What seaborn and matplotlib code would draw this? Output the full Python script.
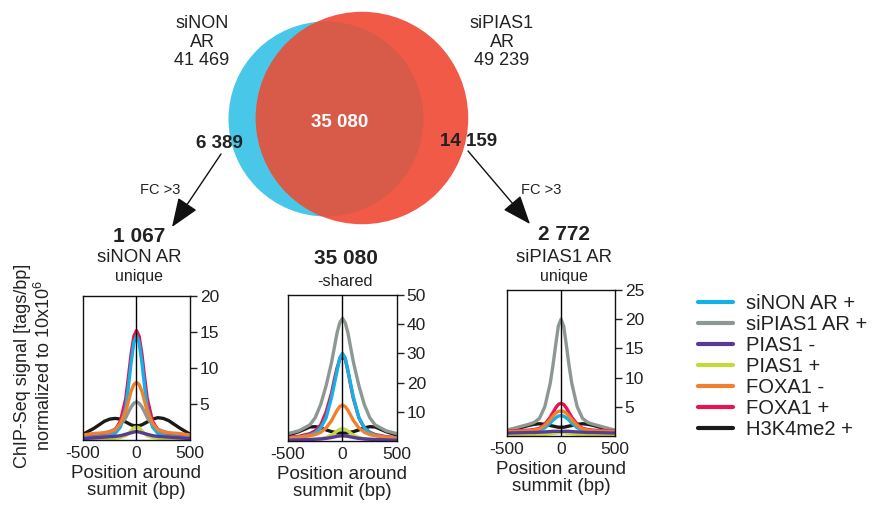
import numpy as np
import pandas as pd
import matplotlib
matplotlib.use('Agg')
import matplotlib.pyplot as plt
from matplotlib.patches import Circle
import seaborn as sns

sns.set_style('ticks')
plt.rcParams['font.family'] = ['Liberation Sans', 'DejaVu Sans']
plt.rcParams['mathtext.fontset'] = 'custom'
plt.rcParams['mathtext.rm'] = 'Liberation Sans'
plt.rcParams['axes.unicode_minus'] = False

# ---- Venn counts ----
venn_names = ['siNON\nAR', 'siPIAS1\nAR']
venn_totals = [41469, 49239]
venn_shared = 35080
venn_unique = [6389, 14159]

# ---- profile panels ----
panel_counts = [1067, 35080, 2772]
panel_names = ['siNON AR', '-shared', 'siPIAS1 AR']
panel_sub = ['unique', '', 'unique']
panel_ymax = [20, 50, 25]
panel_yticks = [[5, 10, 15, 20], [10, 20, 30, 40, 50], [5, 10, 15, 20, 25]]

positions = [-500, -400, -300, -250, -200, -150, -100, -75, -50, -25, 0,
             25, 50, 75, 100, 150, 200, 250, 300, 400, 500]

tracks = ['siNON AR +', 'siPIAS1 AR +', 'PIAS1 -', 'PIAS1 +', 'FOXA1 -', 'FOXA1 +', 'H3K4me2 +']
track_colors = ['#12B2E8', '#8E9892', '#5A3A98', '#C3DA3A', '#F0802E', '#E8134F', '#1A1A1A']
draw_order = ['H3K4me2 +', 'siPIAS1 AR +', 'FOXA1 +', 'siNON AR +', 'FOXA1 -', 'PIAS1 +', 'PIAS1 -']

signal_nonunique = {
    'siNON AR +':   [0.3, 0.4, 0.5, 0.6, 0.9, 1.8, 4.5, 7.5, 10.8, 13.5, 14.5, 13.5, 10.8, 7.5, 4.5, 1.8, 0.9, 0.6, 0.5, 0.4, 0.3],
    'siPIAS1 AR +': [0.5, 0.7, 1.0, 1.2, 1.5, 2.1, 3.1, 3.9, 4.6, 5.1, 5.3, 5.1, 4.6, 3.9, 3.1, 2.1, 1.5, 1.2, 1.0, 0.7, 0.5],
    'PIAS1 -':      [0.2, 0.3, 0.4, 0.45, 0.5, 0.6, 0.8, 0.9, 1.0, 1.1, 1.2, 1.1, 1.0, 0.9, 0.8, 0.6, 0.5, 0.45, 0.4, 0.3, 0.2],
    'PIAS1 +':      [0.1, 0.1, 0.15, 0.2, 0.25, 0.35, 0.6, 0.9, 1.3, 1.7, 1.8, 1.7, 1.3, 0.9, 0.6, 0.35, 0.25, 0.2, 0.15, 0.1, 0.1],
    'FOXA1 -':      [0.7, 0.9, 1.0, 1.1, 1.4, 2.3, 4.0, 5.4, 6.8, 7.7, 8.0, 7.7, 6.8, 5.4, 4.0, 2.3, 1.4, 1.1, 1.0, 0.9, 0.7],
    'FOXA1 +':      [0.5, 0.7, 0.9, 1.0, 1.4, 2.6, 5.8, 8.8, 12.0, 14.4, 15.2, 14.4, 12.0, 8.8, 5.8, 2.6, 1.4, 1.0, 0.9, 0.7, 0.5],
    'H3K4me2 +':    [0.8, 1.6, 2.6, 2.9, 3.0, 2.9, 2.5, 2.3, 2.1, 2.0, 2.0, 2.0, 2.1, 2.3, 2.5, 2.9, 3.1, 3.0, 2.7, 1.7, 0.8],
}
signal_shared = {
    'siNON AR +':   [1.0, 1.3, 2.0, 2.8, 4.5, 8.0, 15.0, 19.5, 24.0, 28.5, 30.0, 28.5, 24.0, 19.5, 15.0, 8.0, 4.5, 2.8, 2.0, 1.3, 1.0],
    'siPIAS1 AR +': [2.5, 3.5, 5.5, 8.0, 12.5, 19.0, 27.0, 32.0, 37.0, 40.5, 42.0, 40.5, 37.0, 32.0, 27.0, 19.0, 12.5, 8.0, 5.5, 3.5, 2.5],
    'PIAS1 -':      [0.3, 0.4, 0.5, 0.6, 0.7, 0.9, 1.2, 1.4, 1.6, 1.7, 1.8, 1.7, 1.6, 1.4, 1.2, 0.9, 0.7, 0.6, 0.5, 0.4, 0.3],
    'PIAS1 +':      [0.3, 0.4, 0.5, 0.6, 0.8, 1.2, 2.0, 2.7, 3.4, 4.0, 4.2, 4.0, 3.4, 2.7, 2.0, 1.2, 0.8, 0.6, 0.5, 0.4, 0.3],
    'FOXA1 -':      [1.0, 1.3, 1.8, 2.2, 3.0, 4.5, 7.0, 8.8, 10.5, 11.8, 12.3, 11.8, 10.5, 8.8, 7.0, 4.5, 3.0, 2.2, 1.8, 1.3, 1.0],
    'FOXA1 +':      [1.2, 1.6, 2.5, 3.5, 5.5, 10.0, 16.5, 21.0, 25.0, 28.0, 29.0, 28.0, 24.0, 19.0, 14.5, 8.0, 4.5, 3.0, 2.2, 1.5, 1.1],
    'H3K4me2 +':    [2.0, 3.2, 4.8, 4.9, 4.5, 3.8, 3.2, 3.0, 2.8, 2.7, 2.7, 2.7, 2.8, 3.0, 3.2, 3.8, 4.5, 4.9, 4.8, 3.2, 2.0],
}
signal_piasunique = {
    'siNON AR +':   [0.5, 0.6, 0.7, 0.8, 1.0, 1.4, 2.2, 2.7, 3.1, 3.4, 3.5, 3.4, 3.1, 2.7, 2.2, 1.4, 1.0, 0.8, 0.7, 0.6, 0.5],
    'siPIAS1 AR +': [1.0, 1.5, 2.0, 2.3, 3.0, 5.0, 9.0, 12.0, 15.5, 18.8, 20.0, 18.8, 15.5, 12.0, 9.0, 5.0, 3.0, 2.3, 2.0, 1.5, 1.0],
    'PIAS1 -':      [0.5, 0.55, 0.6, 0.6, 0.65, 0.7, 0.75, 0.8, 0.8, 0.8, 0.8, 0.8, 0.8, 0.8, 0.75, 0.7, 0.65, 0.6, 0.6, 0.55, 0.5],
    'PIAS1 +':      [0.2, 0.2, 0.25, 0.25, 0.3, 0.3, 0.4, 0.45, 0.5, 0.55, 0.6, 0.55, 0.5, 0.45, 0.4, 0.3, 0.3, 0.25, 0.25, 0.2, 0.2],
    'FOXA1 -':      [0.7, 0.8, 0.9, 1.0, 1.2, 1.8, 2.8, 3.4, 3.9, 4.2, 4.3, 4.2, 3.9, 3.4, 2.8, 1.8, 1.2, 1.0, 0.9, 0.8, 0.7],
    'FOXA1 +':      [0.8, 0.9, 1.0, 1.1, 1.3, 2.0, 3.2, 4.0, 4.8, 5.4, 5.6, 5.4, 4.8, 4.0, 3.2, 2.0, 1.3, 1.1, 1.0, 0.9, 0.8],
    'H3K4me2 +':    [0.8, 1.3, 1.8, 2.0, 2.1, 2.0, 1.8, 1.7, 1.6, 1.5, 1.5, 1.5, 1.6, 1.7, 1.8, 2.0, 2.1, 2.0, 1.8, 1.3, 0.8],
}
panel_signals = [signal_nonunique, signal_shared, signal_piasunique]


def fmt(n):
    return f'{n:,}'.replace(',', ' ')


W, H = 878, 509
fig = plt.figure(figsize=(W / 100, H / 100), dpi=100)

# overlay in pixel coordinates for the Venn part and annotations
ov = fig.add_axes([0, 0, 1, 1])
ov.set_xlim(0, W)
ov.set_ylim(H, 0)
ov.axis('off')

k = 97.5 / np.sqrt(venn_totals[0])
r_blue, r_red = k * np.sqrt(venn_totals[0]), k * np.sqrt(venn_totals[1])
blue = Circle((326, 119), r_blue, color='#48C7E9', lw=0)
red = Circle((362, 118), r_red, color='#F05A46', lw=0)
both = Circle((362, 118), r_red, color='#D85B4A', lw=0)
ov.add_patch(blue)
ov.add_patch(red)
ov.add_patch(both)
both.set_clip_path(blue)

ov.text(202, 42, f'{venn_names[0]}\n{fmt(venn_totals[0])}', ha='center', va='center',
        fontsize=13, color='#222222', linespacing=1.1)
ov.text(502, 42, f'{venn_names[1]}\n{fmt(venn_totals[1])}', ha='center', va='center',
        fontsize=13, color='#222222', linespacing=1.1)
ov.text(340, 122, fmt(venn_shared), ha='center', va='center', fontsize=13.5,
        fontweight='bold', color='white')
ov.text(219, 144, fmt(venn_unique[0]), ha='center', va='center', fontsize=13.5,
        fontweight='bold', color='#222222')
ov.text(469, 142, fmt(venn_unique[1]), ha='center', va='center', fontsize=13.5,
        fontweight='bold', color='#222222')

arrow = dict(arrowstyle='-|>,head_length=0.9,head_width=0.35', lw=1, color='#111111',
             mutation_scale=20, shrinkA=0, shrinkB=0)
ov.annotate('', xy=(172, 227), xytext=(221, 154), arrowprops=arrow)
ov.annotate('', xy=(530, 224), xytext=(468, 151), arrowprops=arrow)
ov.text(160, 190, 'FC >3', ha='center', va='center', fontsize=10.5, color='#222222')
ov.text(541, 190, 'FC >3', ha='center', va='center', fontsize=10.5, color='#222222')

# panel boxes in pixels: left, right, top, bottom
boxes = [(83, 190, 296, 440), (288, 397, 295, 441), (507, 615, 290, 436)]
title_y = [(236, 257, 277), (258, 282, None), (235, 258, 277)]

handles, labels = None, None
for i, (l, r, t, b) in enumerate(boxes):
    ax = fig.add_axes([l / W, 1 - b / H, (r - l) / W, (b - t) / H])
    rows = []
    for name in tracks:
        for p, v in zip(positions, panel_signals[i][name]):
            rows.append((name, p, v))
    df = pd.DataFrame(rows, columns=['track', 'pos', 'signal'])
    sns.lineplot(data=df, x='pos', y='signal', hue='track', hue_order=draw_order,
                 palette=dict(zip(tracks, track_colors)), linewidth=2.4, ax=ax,
                 legend=(i == 0))
    if i == 0:
        h, lb = ax.get_legend_handles_labels()
        lookup = dict(zip(lb, h))
        handles = [lookup[n] for n in tracks]
        labels = tracks
        ax.get_legend().remove()
    ax.axvline(0, color='black', lw=1, zorder=10)
    ax.set_xlim(-500, 500)
    ax.set_ylim(0, panel_ymax[i])
    ax.set_xticks([-500, 0, 500])
    ax.set_yticks(panel_yticks[i])
    ax.yaxis.tick_right()
    ax.tick_params(axis='y', direction='out', length=5, width=1, labelsize=12.5, pad=2,
                   colors='#222222')
    ax.tick_params(axis='x', length=0, labelsize=12.5, pad=4, colors='#222222')
    for s in ax.spines.values():
        s.set_linewidth(1)
        s.set_color('#111111')
    ax.set_xlabel('Position around\nsummit (bp)', fontsize=13.5, color='#222222',
                  labelpad=3, linespacing=1.05)
    ax.set_ylabel('')

    cx = (l + r) / 2 + 3
    y1, y2, y3 = title_y[i]
    ov.text(cx, y1, fmt(panel_counts[i]), ha='center', va='center', fontsize=15,
            fontweight='bold', color='#222222')
    ov.text(cx, y2, panel_names[i], ha='center', va='center',
            fontsize=13.4 if i != 1 else 11.8, color='#222222')
    if y3 is not None:
        ov.text(cx, y3, panel_sub[i], ha='center', va='center', fontsize=11.5,
                color='#222222')

fig.text(34 / W, 1 - 366 / H, 'ChIP-Seq signal [tags/bp]\nnormalized to 10x10$^6$',
         rotation=90, ha='center', va='center', fontsize=13, color='#222222',
         linespacing=1.15)

leg = fig.legend(handles, labels, loc='upper left', bbox_to_anchor=(680 / W, 1 - 276 / H),
                 frameon=False, fontsize=14.5, handlelength=1.75, handletextpad=0.65,
                 labelspacing=0.1)
for line in leg.get_lines():
    line.set_linewidth(3)
for txt in leg.get_texts():
    txt.set_color('#222222')

fig.savefig('out.png', dpi=100)
